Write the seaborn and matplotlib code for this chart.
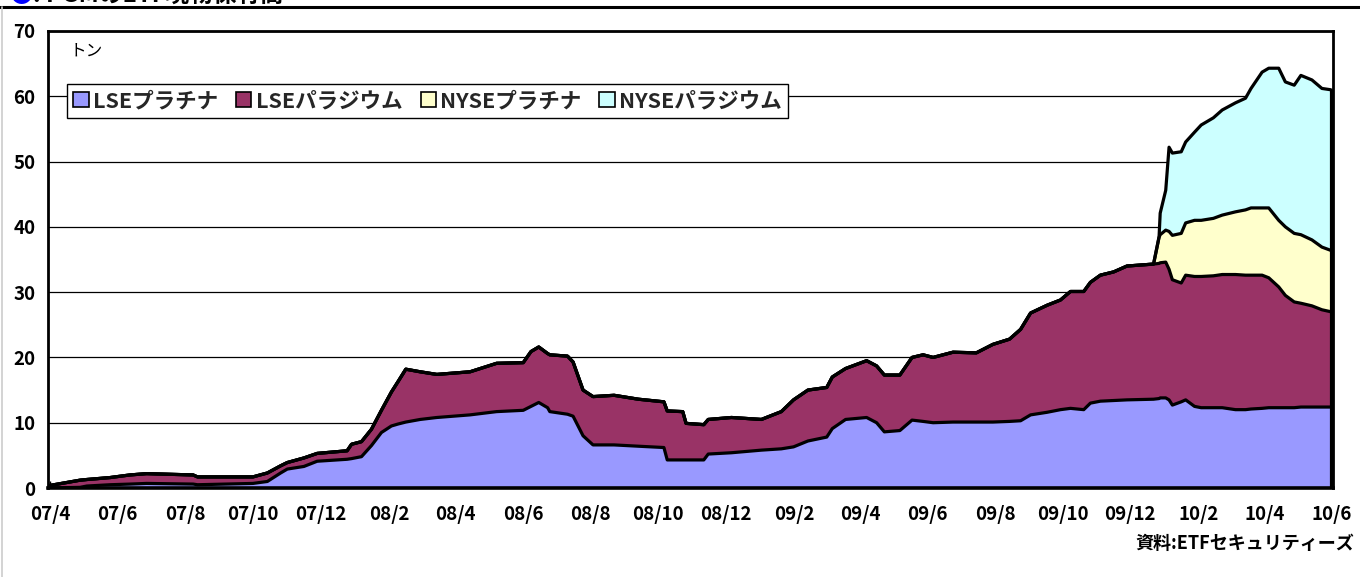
import matplotlib
matplotlib.use("Agg")
import matplotlib.pyplot as plt
from matplotlib.patches import Patch
from matplotlib.lines import Line2D
import seaborn as sns
import pandas as pd

# holdings in tonnes
dates = [
    "2007-04-01", "2007-04-28", "2007-05-04", "2007-05-25", "2007-06-12", "2007-06-27",
    "2007-08-08", "2007-08-12", "2007-10-01", "2007-10-14", "2007-10-26", "2007-11-01",
    "2007-11-16", "2007-11-28", "2007-12-25", "2007-12-29", "2008-01-07", "2008-01-16",
    "2008-01-25", "2008-02-03", "2008-02-09", "2008-02-16", "2008-02-29", "2008-03-15",
    "2008-04-14", "2008-05-08", "2008-06-01", "2008-06-08", "2008-06-15", "2008-06-23",
    "2008-06-25", "2008-07-11", "2008-07-16", "2008-07-25", "2008-08-03", "2008-08-22",
    "2008-09-13", "2008-10-06", "2008-10-09", "2008-10-23", "2008-10-26", "2008-11-11",
    "2008-11-15", "2008-12-06", "2009-01-02", "2009-01-20", "2009-01-31", "2009-02-13",
    "2009-03-02", "2009-03-07", "2009-03-19", "2009-04-07", "2009-04-16", "2009-04-23",
    "2009-05-07", "2009-05-18", "2009-05-28", "2009-06-06", "2009-06-24", "2009-07-15",
    "2009-07-30", "2009-08-14", "2009-08-24", "2009-09-02", "2009-09-17", "2009-09-29",
    "2009-10-08", "2009-10-20", "2009-10-26", "2009-11-04", "2009-11-16", "2009-11-28",
    "2009-12-22", "2009-12-27", "2009-12-28", "2010-01-02", "2010-01-05", "2010-01-08",
    "2010-01-16", "2010-01-20", "2010-01-28", "2010-02-03", "2010-02-14", "2010-02-22",
    "2010-03-06", "2010-03-15", "2010-03-20", "2010-03-30", "2010-04-05", "2010-04-14",
    "2010-04-20", "2010-04-28", "2010-05-04", "2010-05-14", "2010-05-23", "2010-05-31",
]

lse_pt = [
    0.0, 0.1, 0.3, 0.5, 0.6, 0.7, 0.6, 0.5, 0.7, 1.0, 2.3, 2.9,
    3.3, 4.1, 4.4, 4.5, 4.8, 6.5, 8.5, 9.5, 9.8, 10.1, 10.5, 10.8,
    11.2, 11.7, 11.9, 12.5, 13.1, 12.3, 11.7, 11.3, 11.0, 8.0, 6.6, 6.6,
    6.4, 6.2, 4.3, 4.3, 4.3, 4.3, 5.2, 5.4, 5.8, 6.0, 6.3, 7.2,
    7.8, 9.1, 10.5, 10.8, 10.0, 8.6, 8.8, 10.4, 10.2, 10.0, 10.1, 10.1,
    10.1, 10.2, 10.3, 11.2, 11.6, 12.0, 12.2, 12.0, 13.0, 13.3, 13.4, 13.5,
    13.6, 13.7, 13.8, 13.8, 13.5, 12.7, 13.2, 13.5, 12.5, 12.3, 12.3, 12.3,
    12.0, 12.0, 12.1, 12.2, 12.3, 12.3, 12.3, 12.3, 12.4, 12.4, 12.4, 12.4,
]

lse_pd = [
    0.4, 1.1, 1.0, 1.1, 1.4, 1.5, 1.4, 1.2, 1.0, 1.3, 1.1, 1.0,
    1.3, 1.2, 1.3, 2.2, 2.3, 2.5, 3.4, 5.2, 6.5, 8.1, 7.3, 6.6,
    6.6, 7.4, 7.3, 8.4, 8.5, 8.3, 8.7, 8.9, 8.3, 7.0, 7.4, 7.6,
    7.2, 7.0, 7.5, 7.4, 5.6, 5.4, 5.3, 5.4, 4.7, 5.7, 7.2, 7.8,
    7.6, 7.9, 7.8, 8.7, 8.7, 8.7, 8.5, 9.6, 10.2, 10.0, 10.7, 10.6,
    11.9, 12.6, 14.0, 15.6, 16.4, 16.8, 17.9, 18.1, 18.5, 19.3, 19.7, 20.5,
    20.7, 20.7, 20.7, 20.8, 20.0, 19.2, 18.2, 19.1, 19.9, 20.1, 20.2, 20.4,
    20.7, 20.6, 20.5, 20.4, 19.9, 18.5, 17.2, 16.2, 15.9, 15.5, 14.9, 14.6,
]

nyse_pt = [0.0] * 73 + [
    4.0, 4.3, 4.9, 5.8, 6.8, 7.6, 8.0, 8.6, 8.6, 8.8, 9.1,
    9.6, 10.0, 10.3, 10.3, 10.7, 10.2, 10.5, 10.5, 10.5, 10.1, 9.6, 9.4,
]

nyse_pd = [0.0] * 73 + [
    0.1, 3.3, 6.1, 12.9, 12.6, 12.5, 12.4, 13.5, 14.6, 15.4, 16.1,
    16.7, 17.1, 18.3, 20.8, 21.4, 23.3, 22.2, 22.7, 24.4, 24.5, 24.3, 24.6,
]

series_names = ["LSEプラチナ", "LSEパラジウム", "NYSEプラチナ", "NYSEパラジウム"]
colors = ["#9999FF", "#993366", "#FFFFCC", "#CCFFFF"]

tick_labels = ["07/4", "07/6", "07/8", "07/10", "07/12", "08/2", "08/4", "08/6",
               "08/8", "08/10", "08/12", "09/2", "09/4", "09/6", "09/8", "09/10",
               "09/12", "10/2", "10/4", "10/6"]

sns.set_theme(style="white")
plt.rcParams["font.family"] = ["Noto Sans CJK JP", "DejaVu Sans"]

df = pd.DataFrame({
    "date": pd.to_datetime(dates),
    series_names[0]: lse_pt,
    series_names[1]: lse_pd,
    series_names[2]: nyse_pt,
    series_names[3]: nyse_pd,
})
cum = df[series_names].cumsum(axis=1)

fig = plt.figure(figsize=(13.6, 5.77), dpi=100)
ax = fig.add_axes([48 / 1360, 1 - 488 / 577, 1285 / 1360, 457 / 577])

ax.stackplot(df["date"], *[df[s] for s in series_names], colors=colors,
             edgecolor="none", zorder=2)
for s in series_names:
    sns.lineplot(x=df["date"], y=cum[s], ax=ax, color="black", lw=2.3,
                 zorder=3, legend=False)
ax.plot([df["date"].iloc[-1]] * 2, [0, cum[series_names[-1]].iloc[-1]],
        color="black", lw=2.3, zorder=3)

ax.set_xlim(pd.Timestamp("2007-03-30"), pd.Timestamp("2010-06-02"))
ax.set_ylim(0, 70)
ax.set_yticks(range(0, 71, 10))
ax.yaxis.grid(True, color="black", lw=0.9)
ax.set_axisbelow(True)
ax.set_xlabel("")
ax.set_ylabel("")

tick_dates = [pd.Timestamp(f"20{t.split('/')[0]}-{int(t.split('/')[1]):02d}-01") for t in tick_labels]
ax.set_xticks(tick_dates)
ax.set_xticklabels(tick_labels)
ax.tick_params(axis="x", direction="in", length=5, width=1, color="black",
               pad=12, labelsize=13.5, bottom=True)
ax.tick_params(axis="y", length=0, pad=9, labelsize=13.5)
for lab in ax.get_xticklabels() + ax.get_yticklabels():
    lab.set_fontweight("bold")
    lab.set_color("black")

for side, sp in ax.spines.items():
    sp.set_color("black")
    sp.set_linewidth(2.0)
ax.spines["bottom"].set_linewidth(2.6)

ax.text(0.017, 0.955, "トン", transform=ax.transAxes, fontsize=12,
        ha="left", va="center", color="black")

handles = [Patch(facecolor=c, edgecolor="black", lw=1.2) for c in colors]
leg = ax.legend(handles, series_names, ncol=4, loc="upper left",
                bbox_to_anchor=(0.0148, 0.884), borderaxespad=0, frameon=True,
                fancybox=False, framealpha=1, edgecolor="black",
                handlelength=0.7, handleheight=0.7, handletextpad=0.2,
                columnspacing=0.85, borderpad=0.3,
                prop={"size": 15.5, "weight": "bold"})
leg.get_frame().set_linewidth(1.0)

fig.text(0.996, 1 - 543 / 577, "資料:ETFセキュリティーズ", ha="right",
         va="center", fontsize=13, fontweight="bold", color="black")

# header strip, cut off at the top of the image
fig.add_artist(Line2D([0, 1], [1 - 7 / 577, 1 - 7 / 577], color="black", lw=2.2))
fig.add_artist(Line2D([0.0015, 0.0015], [0, 1 - 7 / 577], color="#cccccc", lw=1.2))
fig.text(0.007, 1 + 5 / 577, "●", color="#0000FF", fontsize=17, ha="left", va="center")
fig.text(0.024, 1 + 5 / 577, ": PGMのETF現物保有高", color="black", fontsize=17,
         fontweight="bold", ha="left", va="center")

fig.savefig("out.png", dpi=100)
